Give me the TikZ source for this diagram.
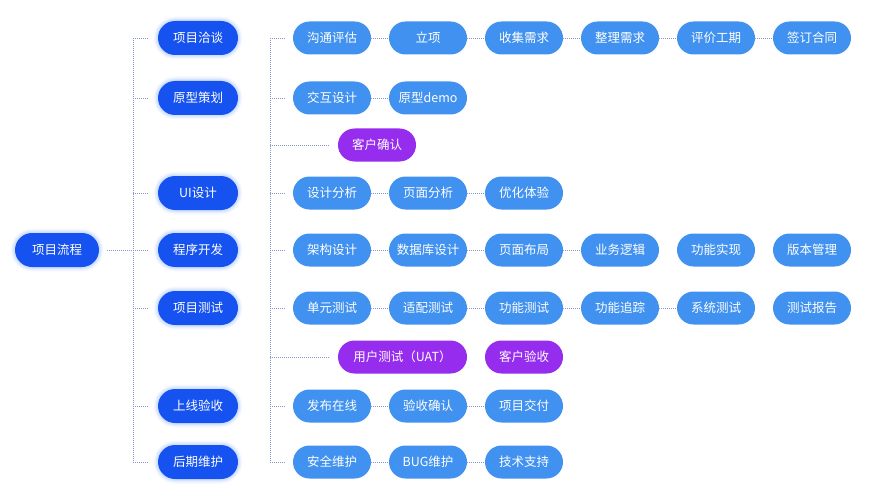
\documentclass[tikz,border=0pt]{standalone}
\usepackage{fontspec}
\setmainfont{Noto Sans CJK SC}
\usetikzlibrary{shapes.misc}
\definecolor{deepblue}{RGB}{22,82,240}
\definecolor{skyblue}{RGB}{64,145,240}
\definecolor{grape}{RGB}{150,45,238}
\definecolor{linkgray}{RGB}{135,150,205}
\definecolor{glow}{RGB}{150,185,255}
\tikzset{
  pill/.style={rounded rectangle, text=white, inner sep=0pt, font=\fontsize{12.5}{14}\selectfont},
  phase/.style={pill, fill=deepblue, minimum width=80pt, minimum height=34pt,
    preaction={draw=glow, line width=9pt, draw opacity=.08},
    preaction={draw=glow, line width=7pt, draw opacity=.1},
    preaction={draw=glow, line width=5pt, draw opacity=.14},
    preaction={draw=glow, line width=3pt, draw opacity=.2}},
  task/.style={pill, fill=skyblue, minimum width=78pt, minimum height=33pt},
  check/.style={pill, fill=grape, minimum width=78pt, minimum height=33pt},
  link/.style={draw=linkgray, line width=.7pt, dash pattern=on 1pt off 1pt}
}

\begin{document}
\begin{tikzpicture}[x=1pt, y=-1pt]
  \useasboundingbox (0,0) rectangle (880,500);

  % root
  \node[phase, minimum width=84pt] (root) at (57,250) {项目流程};

  % phases
  \node[phase] (p1) at (198,38) {项目洽谈};
  \node[phase] (p2) at (198,98) {原型策划};
  \node[phase] (p3) at (198,193) {UI设计};
  \node[phase] (p4) at (198,250) {程序开发};
  \node[phase] (p5) at (198,308) {项目测试};
  \node[phase] (p6) at (198,406) {上线验收};
  \node[phase] (p7) at (198,462) {后期维护};

  % tasks, one row per phase
  \foreach \t [count=\i] in {沟通评估,立项,收集需求,整理需求,评价工期,签订合同}
    \node[task] (a\i) at ({236+96*\i},38) {\t};
  \foreach \t [count=\i] in {交互设计,原型demo}
    \node[task] (b\i) at ({236+96*\i},98) {\t};
  \node[check] (c1) at (377,145) {客户确认};
  \foreach \t [count=\i] in {设计分析,页面分析,优化体验}
    \node[task] (d\i) at ({236+96*\i},193) {\t};
  \foreach \t [count=\i] in {架构设计,数据库设计,页面布局,业务逻辑,功能实现,版本管理}
    \node[task] (e\i) at ({236+96*\i},250) {\t};
  \foreach \t [count=\i] in {单元测试,适配测试,功能测试,功能追踪,系统测试,测试报告}
    \node[task] (f\i) at ({236+96*\i},308) {\t};
  \node[check, minimum width=129pt] (g1) at (402.5,357) {用户测试（UAT）};
  \node[check] (g2) at (524,357) {客户验收};
  \foreach \t [count=\i] in {发布在线,验收确认,项目交付}
    \node[task] (h\i) at ({236+96*\i},406) {\t};
  \foreach \t [count=\i] in {安全维护,BUG维护,技术支持}
    \node[task] (k\i) at ({236+96*\i},462) {\t};

  % trunks
  \coordinate (t1) at (133,38);
  \coordinate (t1end) at (133,462);
  \coordinate (t2) at (270,38);
  \coordinate (t2end) at (270,462);
  \draw[link] (t1) -- (t1end);
  \draw[link] (t2) -- (t2end);

  % root to phases
  \draw[link] ([xshift=8pt]root.east) -- (t1 |- root);
  \foreach \p in {p1,p2,p3,p4,p5,p6,p7}
    \draw[link] (t1 |- \p) -- ([xshift=-10pt]\p.west);

  % phases to first tasks
  \foreach \q in {a1,b1,c1,d1,e1,f1,g1,h1,k1}
    \draw[link] (t2 |- \q) -- ([xshift=-8pt]\q.west);

  % task chains
  \foreach \u/\v in {a1/a2,a2/a3,a3/a4,a4/a5,a5/a6,b1/b2,d1/d2,d2/d3,
                     e1/e2,e2/e3,e3/e4,f1/f2,f2/f3,f3/f4,f4/f5,h1/h2,h2/h3,k1/k2,k2/k3}
    \draw[link] (\u.east) -- (\v.west);
\end{tikzpicture}
\end{document}
